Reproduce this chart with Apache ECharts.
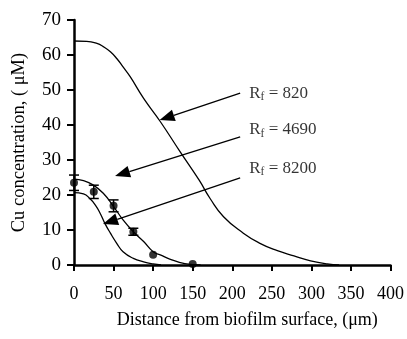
<!DOCTYPE html>
<html>
<head>
<meta charset="utf-8">
<script src="https://cdn.jsdelivr.net/npm/echarts@6/dist/echarts.min.js"></script>
<style>html,body{margin:0;padding:0;background:#fff;}#c{width:407px;height:339px;}</style>
</head>
<body>
<div id="c"></div>
<script>
// Model curves (distance in µm, concentration in µM)
const x820  = [0, 16, 29, 37, 46, 54, 62, 71, 88, 109, 134, 158, 172, 189, 214, 235, 257, 278, 299, 320, 335];
const y820  = [64, 63.9, 63.3, 62.4, 60.9, 59, 56.6, 53.8, 47.6, 41, 32.4, 24.3, 19, 13.8, 9.1, 6.2, 4.1, 2.6, 1.2, 0.3, 0];
const x4690 = [0, 12, 24, 37, 50, 62, 75, 88, 100, 109, 121, 140, 160];
const y4690 = [24.5, 24.1, 22.9, 20.5, 16.7, 12.9, 9.5, 6.7, 3.8, 2.9, 1.7, 0.4, 0];
const x8200 = [0, 12, 20, 27, 33, 39, 46, 54, 62, 75, 88, 100, 110];
const y8200 = [20.7, 20.3, 19.0, 17.1, 14.8, 11.9, 9.1, 6.2, 3.8, 1.9, 0.9, 0.3, 0];
// Measured data with error bars
const xObs = [0, 25, 50, 75, 100, 150];
const yObs = [23.5, 20.9, 16.9, 9.5, 2.9, 0.3];
const eObs = [2.2, 1.9, 1.7, 1.0, 0, 0];
// Annotations
const annLabels = ['820', '4690', '8200'];
const annText = [[221.5, 49.1], [221.5, 38.6], [221.5, 27.7]];
const arrowFrom = [[210, 49.1], [210, 36.6], [210, 24.9]];
const arrowTo = [[108.2, 41.4], [51.9, 25.4], [36.7, 11.7]];

const zip = (a, b) => a.map((v, i) => [v, b[i]]);
const FONT = '"Liberation Serif", "Times New Roman", serif';

const chart = echarts.init(document.getElementById('c'));
const lineBase = {
  type: 'line', smooth: 0.5, showSymbol: false, symbol: 'none',
  lineStyle: { color: '#000', width: 1.3 }, silent: true, animation: false
};
chart.setOption({
  backgroundColor: '#fff',
  animation: false,
  grid: { left: 74, right: 16, top: 20, bottom: 74 },
  xAxis: {
    type: 'value', min: 0, max: 400, interval: 50,
    name: 'Distance from biofilm surface, (\u03bcm)',
    nameLocation: 'middle', nameGap: 46,
    nameTextStyle: { fontFamily: FONT, fontSize: 18, color: '#000', padding: [0, 0, 0, 30] },
    axisLine: { lineStyle: { color: '#000', width: 2.5 } },
    axisTick: { show: true, length: 6, lineStyle: { color: '#000', width: 2 } },
    axisLabel: { fontFamily: FONT, fontSize: 18, color: '#000', margin: 20 },
    splitLine: { show: false }
  },
  yAxis: {
    type: 'value', min: 0, max: 70, interval: 10,
    name: 'Cu concentration, ( \u03bcM)',
    nameLocation: 'middle', nameGap: 45, nameRotate: 90,
    nameTextStyle: { fontFamily: FONT, fontSize: 18.5, color: '#000' },
    axisLine: { show: true, lineStyle: { color: '#000', width: 2.5 } },
    axisTick: { show: true, length: 7, lineStyle: { color: '#000', width: 2 } },
    axisLabel: { fontFamily: FONT, fontSize: 19, color: '#000', margin: 13 },
    splitLine: { show: false }
  },
  series: [
    Object.assign({}, lineBase, { name: 'Rf820', data: zip(x820, y820) }),
    Object.assign({}, lineBase, { name: 'Rf4690', data: zip(x4690, y4690) }),
    Object.assign({}, lineBase, { name: 'Rf8200', data: zip(x8200, y8200) }),
    {
      type: 'custom', name: 'err', silent: true, animation: false,
      data: xObs.map((x, i) => [x, yObs[i] - eObs[i], yObs[i] + eObs[i]]),
      renderItem: function (params, api) {
        const lo = api.coord([api.value(0), api.value(1)]);
        const hi = api.coord([api.value(0), api.value(2)]);
        if (Math.abs(hi[1] - lo[1]) < 1) return { type: 'group', children: [] };
        const w = 5;
        const st = { stroke: '#000', lineWidth: 1.5 };
        return {
          type: 'group', children: [
            { type: 'line', shape: { x1: lo[0], y1: lo[1], x2: hi[0], y2: hi[1] }, style: st },
            { type: 'line', shape: { x1: lo[0] - w, y1: lo[1], x2: lo[0] + w, y2: lo[1] }, style: st },
            { type: 'line', shape: { x1: hi[0] - w, y1: hi[1], x2: hi[0] + w, y2: hi[1] }, style: st }
          ]
        };
      }
    },
    {
      type: 'scatter', name: 'obs', symbol: 'circle', symbolSize: 8, silent: true, animation: false,
      itemStyle: { color: '#000' }, data: zip(xObs, yObs)
    },
    {
      type: 'custom', name: 'arrows', silent: true, animation: false,
      data: arrowFrom.map((f, i) => [f[0], f[1], arrowTo[i][0], arrowTo[i][1]]),
      renderItem: function (params, api) {
        const a = api.coord([api.value(0), api.value(1)]);
        const b = api.coord([api.value(2), api.value(3)]);
        const dx = b[0] - a[0], dy = b[1] - a[1];
        const len = Math.sqrt(dx * dx + dy * dy);
        const ux = dx / len, uy = dy / len;
        const hl = 15, hw = 6;
        const bx = b[0] - ux * hl, by = b[1] - uy * hl;
        return {
          type: 'group', children: [
            { type: 'line', shape: { x1: a[0], y1: a[1], x2: bx, y2: by }, style: { stroke: '#000', lineWidth: 1.3 } },
            { type: 'polygon', shape: { points: [[b[0], b[1]], [bx - uy * hw, by + ux * hw], [bx + uy * hw, by - ux * hw]] }, style: { fill: '#000' } }
          ]
        };
      }
    },
    {
      type: 'scatter', name: 'ann', symbolSize: 0, silent: true, animation: false,
      data: annText.map((p, i) => ({ value: p, name: annLabels[i] })),
      label: {
        show: true, position: 'right', distance: 0,
        formatter: p => '{a|R}{b|f}{a| = ' + p.name + '}',
        rich: {
          a: { fontFamily: FONT, fontSize: 17, color: '#000', lineHeight: 20 },
          b: { fontFamily: FONT, fontSize: 11.5, color: '#000', lineHeight: 11, verticalAlign: 'bottom' }
        }
      }
    }
  ]
});
</script>
</body>
</html>
